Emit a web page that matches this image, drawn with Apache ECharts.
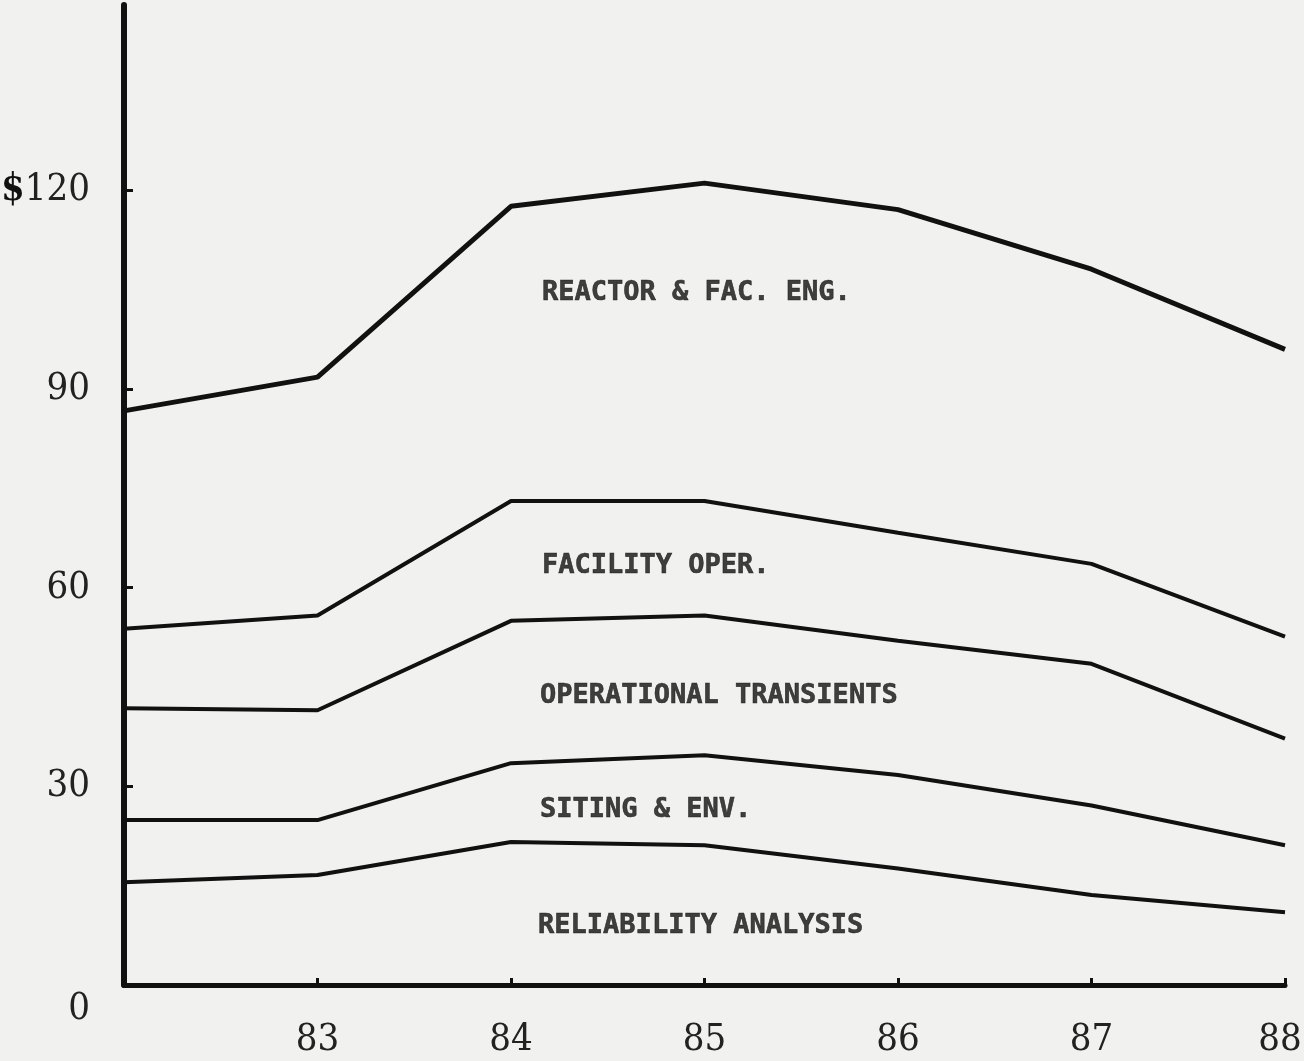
<!DOCTYPE html>
<html lang="en">
<head>
  <meta charset="UTF-8">
  <title>Program funding by area</title>
  <script src="https://cdn.jsdelivr.net/npm/echarts@6/dist/echarts.min.js"></script>
  <style>
    html, body { margin: 0; padding: 0; background: #f1f1ef; }
  </style>
</head>
<body>
  <div id="main" style="width: 1304px;height:1061px;"></div>
  <script>
    // fiscal years (82 sits on the y axis, unlabelled)
    var years = [82, 83, 84, 85, 86, 87, 88];
    var yearTicks = [83, 84, 85, 86, 87, 88];
    var valueTicks = [0, 30, 60, 90, 120];

    // cumulative totals, millions of dollars
    var reactorEng = [86.7, 91.8, 117.6, 121.1, 117.1, 108.1, 96.0];
    var facilityOper = [53.8, 55.8, 73.1, 73.1, 68.3, 63.6, 52.6];
    var operTransients = [41.8, 41.5, 55.0, 55.8, 52.0, 48.5, 37.2];
    var sitingEnv = [24.9, 24.9, 33.5, 34.7, 31.7, 27.1, 21.1];
    var reliability = [15.5, 16.6, 21.6, 21.1, 17.6, 13.6, 11.0];

    // band labels and where they sit (data coordinates)
    var bandNames = ['REACTOR & FAC. ENG.', 'FACILITY OPER.', 'OPERATIONAL TRANSIENTS', 'SITING & ENV.', 'RELIABILITY ANALYSIS'];
    var bandX = [84.16, 84.16, 84.15, 84.15, 84.14];
    var bandY = [104.5, 63.3, 43.7, 26.4, 8.9];

    var ink = '#111';
    var numFont = '"Liberation Sans Narrow", "DejaVu Serif Condensed", "DejaVu Sans Condensed", sans-serif';

    function pairs(vals) {
      return years.map(function (y, i) { return [y, vals[i]]; });
    }

    function lineSeries(vals, width) {
      return {
        type: 'line',
        data: pairs(vals),
        symbol: 'none',
        lineStyle: { color: ink, width: width },
        silent: true
      };
    }

    var myChart = echarts.init(document.getElementById('main'));

    var option = {
      backgroundColor: '#f1f1ef',
      animation: false,
      grid: { left: 124, right: 19, top: 5, bottom: 76, containLabel: false, outerBoundsMode: 'none' },
      xAxis: {
        type: 'value',
        min: 82,
        max: 88,
        interval: 1,
        splitLine: { show: false },
        axisLine: { lineStyle: { color: ink, width: 5 } },
        axisTick: { inside: true, length: 7, customValues: yearTicks, lineStyle: { color: ink, width: 3 } },
        axisLabel: {
          customValues: yearTicks,
          color: '#222',
          fontFamily: numFont,
          fontSize: 38,
          margin: 36,
          formatter: function (v) {
            // last label sits a touch left so it stays on the page
            return v === 88 ? '{e|88}' : String(v);
          },
          rich: {
            e: { fontFamily: numFont, fontSize: 38, color: '#222', padding: [0, 10, 0, 0] }
          }
        }
      },
      yAxis: {
        type: 'value',
        min: 0,
        max: 148,
        splitLine: { show: false },
        axisLine: { show: true, lineStyle: { color: ink, width: 6 } },
        axisTick: { show: true, inside: true, length: 9, customValues: valueTicks, lineStyle: { color: ink, width: 3 } },
        axisLabel: {
          customValues: valueTicks,
          color: '#222',
          fontFamily: numFont,
          fontSize: 38,
          margin: 34,
          formatter: function (v) {
            if (v === 0) return '{z|0}';
            if (v === 120) return '{b|$}120';
            return String(v);
          },
          rich: {
            z: { fontFamily: numFont, fontSize: 38, color: '#222', padding: [48, 0, 0, 0] },
            b: { fontFamily: numFont, fontSize: 38, color: '#111', fontWeight: 'bold' }
          }
        }
      },
      series: [
        lineSeries(reactorEng, 5),
        lineSeries(facilityOper, 4),
        lineSeries(operTransients, 4),
        lineSeries(sitingEnv, 4),
        lineSeries(reliability, 4),
        {
          type: 'scatter',
          symbolSize: 0,
          silent: true,
          data: bandNames.map(function (n, i) { return { name: n, value: [bandX[i], bandY[i]] }; }),
          label: {
            show: true,
            position: 'inside',
            align: 'left',
            verticalAlign: 'middle',
            formatter: '{b}',
            color: '#111',
            fontFamily: '"DejaVu Sans Mono", monospace',
            fontWeight: 'bold',
            fontSize: 27,
            textBorderColor: '#111',
            textBorderWidth: 0.6
          }
        }
      ]
    };

    myChart.setOption(option);
  </script>
</body>
</html>
